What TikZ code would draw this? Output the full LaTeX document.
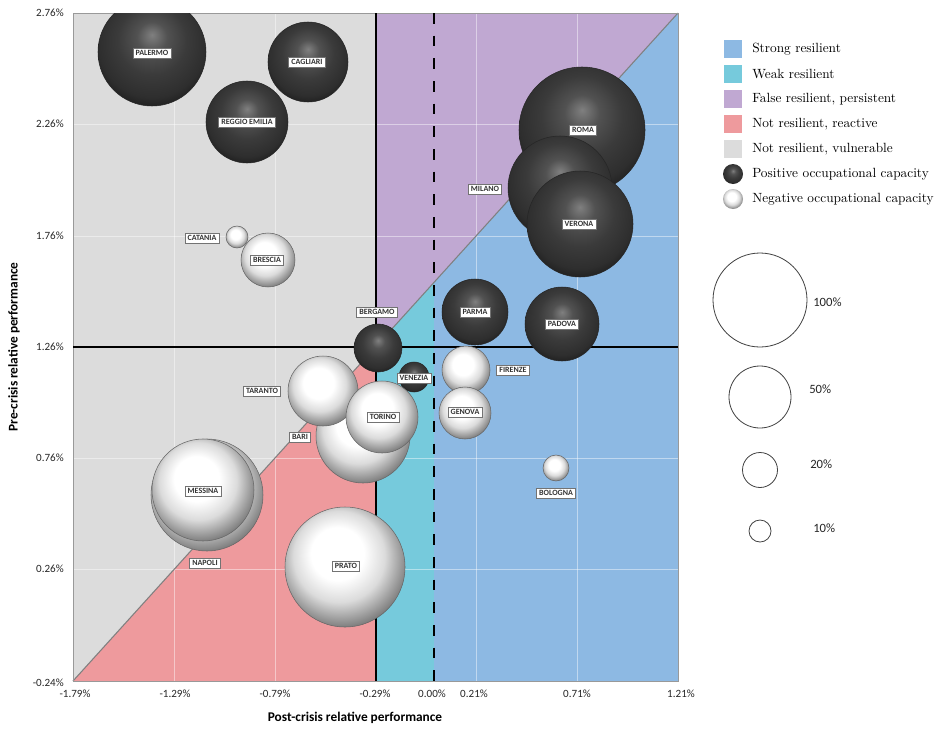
\documentclass[tikz,border=0pt]{standalone}
\usepackage{fontspec}
\setsansfont{Carlito}
\usepackage{tikz}

\definecolor{strongres}{RGB}{141,185,227}
\definecolor{weakres}{RGB}{118,202,220}
\definecolor{falseres}{RGB}{192,168,210}
\definecolor{reactive}{RGB}{238,154,157}
\definecolor{vulner}{RGB}{220,220,220}

\pgfdeclareradialshading{posball}{\pgfpoint{0bp}{8bp}}{color(0bp)=(black!50); color(7bp)=(black!68); color(16bp)=(black!77); color(25bp)=(black!82); color(31bp)=(black!90); color(50bp)=(black)}
\pgfdeclareradialshading{negball}{\pgfpoint{-4bp}{7bp}}{color(0bp)=(white); color(11bp)=(white); color(19bp)=(black!14); color(26bp)=(black!42); color(32bp)=(black!66); color(50bp)=(black!70)}

\begin{document}
\begin{tikzpicture}[x=0.75pt,y=-0.75pt]
	\useasboundingbox (0,0) rectangle (938,732);
	\tikzstyle{bsize}=[minimum size=#1*1.5pt]
	\tikzstyle{posbubble}=[shape=circle,inner sep=0pt,shading=posball,draw=black!85,line width=0.4pt]
	\tikzstyle{negbubble}=[shape=circle,inner sep=0pt,shading=negball,draw=black!60,line width=0.4pt]
	\tikzstyle{citytag}=[draw=black!55,fill=white,line width=0.5pt,text=black!80,inner xsep=2pt,inner ysep=1.8pt,font=\sffamily\bfseries\fontsize{6}{6}\selectfont]
	\tikzstyle{ticklabel}=[inner sep=0pt,text=black!85,font=\sffamily\fontsize{8.3}{8.3}\selectfont]
	% quadrants
	\fill[vulner]    (73,681) -- (376,346.5) -- (376,13) -- (73,13) -- cycle;
	\fill[reactive]  (73,681) -- (376,681) -- (376,346.5) -- cycle;
	\fill[falseres]  (376,346.5) -- (678,13) -- (376,13) -- cycle;
	\fill[weakres]   (376,681) -- (434,681) -- (434,282.4) -- (376,346.5) -- cycle;
	\fill[strongres] (434,681) -- (678,681) -- (678,13) -- (434,282.4) -- cycle;
	\foreach \gx in {174,275,476,577}
		\draw[white,draw opacity=0.45,line width=0.5pt] (\gx,13) -- (\gx,681);
	\foreach \gy in {124,236,458,569}
		\draw[white,draw opacity=0.45,line width=0.5pt] (73,\gy) -- (678,\gy);
	\draw[black!50,line width=0.8pt] (73,681) -- (678,13);
	\draw[black!40,line width=0.6pt] (73,13) rectangle (678,681);
	\draw[line width=0.9pt] (376,13) -- (376,681);
	\draw[line width=0.9pt] (73,347) -- (678,347);
	\draw[line width=0.9pt,dash pattern=on 8pt off 9pt] (434,13) -- (434,681);
	% bubbles
	\begin{scope}
		\clip (73,13) rectangle (678,681);
		\node[posbubble,bsize=54] (palermo) at (152,52) {};
		\node[posbubble,bsize=40] (cagliari) at (308,62) {};
		\node[posbubble,bsize=41] (reggio) at (247,122) {};
		\node[posbubble,bsize=63] (roma) at (582,130) {};
		\node[posbubble,bsize=52] (milano) at (560,188) {};
		\node[posbubble,bsize=53] (verona) at (580,224) {};
		\node[posbubble,bsize=33] (parma) at (475,312) {};
		\node[posbubble,bsize=37] (padova) at (562,324) {};
		\node[posbubble,bsize=24] (bergamo) at (378,348) {};
		\node[posbubble,bsize=15] (venezia) at (414,377) {};
		\node[negbubble,bsize=11] (catania) at (237,237) {};
		\node[negbubble,bsize=27] (brescia) at (268,260) {};
		\node[negbubble,bsize=56] (napoli) at (207,495) {};
		\node[negbubble,bsize=51] (messina) at (203,490) {};
		\node[negbubble,bsize=47] (bari) at (363,436) {};
		\node[negbubble,bsize=35] (taranto) at (323,391) {};
		\node[negbubble,bsize=36] (torino) at (382,417) {};
		\node[negbubble,bsize=24] (firenze) at (466,370) {};
		\node[negbubble,bsize=26] (genova) at (465,413) {};
		\node[negbubble,bsize=13] (bologna) at (556,468) {};
		\node[negbubble,bsize=60] (prato) at (345,567) {};
	\end{scope}
	% city labels
	\node[citytag] (palermo-t) at (152,53) {PALERMO};
	\node[citytag] (cagliari-t) at (307,62) {CAGLIARI};
	\node[citytag] (reggio-t) at (247,122) {REGGIO EMILIA};
	\node[citytag] (catania-t) at (202,238) {CATANIA};
	\node[citytag] (brescia-t) at (267,260) {BRESCIA};
	\node[citytag] (bergamo-t) at (377,312) {BERGAMO};
	\node[citytag] (venezia-t) at (414,378) {VENEZIA};
	\node[citytag] (parma-t) at (475,312) {PARMA};
	\node[citytag] (padova-t) at (562,324) {PADOVA};
	\node[citytag] (firenze-t) at (513,370) {FIRENZE};
	\node[citytag] (genova-t) at (465,412) {GENOVA};
	\node[citytag] (bologna-t) at (556,493) {BOLOGNA};
	\node[citytag] (torino-t) at (383,417) {TORINO};
	\node[citytag] (bari-t) at (300,437) {BARI};
	\node[citytag] (taranto-t) at (262,391) {TARANTO};
	\node[citytag] (messina-t) at (203,491) {MESSINA};
	\node[citytag] (napoli-t) at (205,563) {NAPOLI};
	\node[citytag] (prato-t) at (346,566) {PRATO};
	\node[citytag] (roma-t) at (583,130) {ROMA};
	\node[citytag] (milano-t) at (485,189) {MILANO};
	\node[citytag] (verona-t) at (579,224) {VERONA};
	% axes
	\foreach \py/\lab [count=\i] in {13/2.76,124/2.26,236/1.76,347/1.26,458/0.76,569/0.26,683/-0.24}
		\node[ticklabel,anchor=east] (ytick\i) at (64,\py) {\lab\%};
	\foreach \px/\lab [count=\i] in {75/-1.79,175/-1.29,275/-0.79,375/-0.29,432/0.00,474/0.21,577/0.71,681/1.21}
		\node[ticklabel] (xtick\i) at (\px,694) {\lab\%};
	\node[font=\sffamily\bfseries\fontsize{10}{10}\selectfont] (xtitle) at (355,718) {Post-crisis relative performance};
	\node[font=\sffamily\bfseries\fontsize{10}{10}\selectfont,rotate=90] (ytitle) at (14,347) {Pre-crisis relative performance};
	% legend
	\foreach \ly/\lc/\lt [count=\i] in {49/strongres/Strong resilient,74/weakres/Weak resilient,99/falseres/{False resilient, persistent},124/reactive/{Not resilient, reactive},149/vulner/{Not resilient, vulnerable}}
	{
		\node[fill=\lc,minimum size=13.5pt,inner sep=0pt] (key\i) at (733,\ly) {};
		\node[anchor=west,inner sep=0pt,font=\fontsize{10}{10}\selectfont] (keytext\i) at (752,\ly) {\lt};
	}
	\node[posbubble,draw=none,bsize=10] (keypos) at (733,174) {};
	\node[anchor=west,inner sep=0pt,font=\fontsize{10}{10}\selectfont] (keypostext) at (752,174) {Positive occupational capacity};
	\node[negbubble,draw=none,bsize=10] (keyneg) at (733,199) {};
	\node[anchor=west,inner sep=0pt,font=\fontsize{10}{10}\selectfont] (keynegtext) at (752,199) {Negative occupational capacity};
	% size key
	\tikzstyle{sizering}=[shape=circle,inner sep=0pt,draw=black!75,line width=0.6pt]
	\node[sizering,bsize=47] (ring100) at (760,300) {};
	\node[sizering,bsize=31] (ring50) at (760,397) {};
	\node[sizering,bsize=17.5] (ring20) at (760,470) {};
	\node[sizering,bsize=11] (ring10) at (760,531) {};
	\node[ticklabel,anchor=west,font=\sffamily\fontsize{9.5}{9.5}\selectfont] (ring100-t) at (813,302) {100\%};
	\node[ticklabel,anchor=west,font=\sffamily\fontsize{9.5}{9.5}\selectfont] (ring50-t) at (809,389) {50\%};
	\node[ticklabel,anchor=west,font=\sffamily\fontsize{9.5}{9.5}\selectfont] (ring20-t) at (810,464) {20\%};
	\node[ticklabel,anchor=west,font=\sffamily\fontsize{9.5}{9.5}\selectfont] (ring10-t) at (813,528) {10\%};
\end{tikzpicture}
\end{document}
